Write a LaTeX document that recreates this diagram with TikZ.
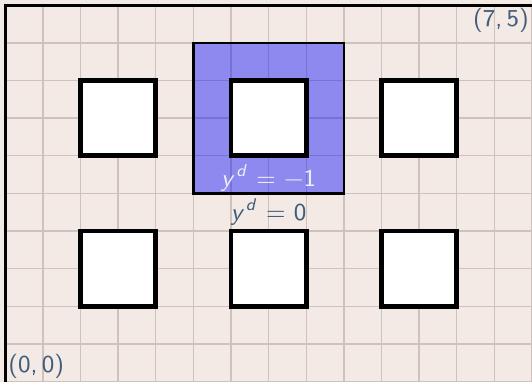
\documentclass[tikz,border=0pt]{standalone}
\definecolor{fondo}{HTML}{F3EAE5}
\definecolor{rejilla}{HTML}{CDC2BD}
\definecolor{texto}{HTML}{405C7C}
\newcommand{\ydsup}{\textit{y}\textsuperscript{\kern0.6pt\textit{d}}}
\tikzset{
  celda/.style={draw=black, line width=1.8pt, fill=white},
  zona/.style={draw=black, line width=0.9pt, fill=blue, fill opacity=0.41},
  etiqueta/.style={text=texto, inner sep=1.5pt}
}
\begin{document}
\begin{tikzpicture}[font=\sffamily\fontsize{9.2}{11}\selectfont]
			\useasboundingbox (-0.07,0) rectangle (7,5.07);
			%Fondo y rejilla
			\fill[fondo] (-0.07,0) rectangle (7,5.07);
			\draw[rejilla, line width=0.5pt] (0,0) grid[step=0.5] (7,5);
			\draw[line width=1.2pt] (0,0) -- (0,5) -- (7,5);
			%Zona azul
			\draw[zona] (2.5,2.5) rectangle (4.5,4.5);
			%Celdas de arriba
			\draw[celda] (1,3) rectangle (2,4);
			\draw[celda] (3,3) rectangle (4,4);
			\draw[celda] (5,3) rectangle (6,4);
			%Celdas de abajo
			\draw[celda] (1,1) rectangle (2,2);
			\draw[celda] (3,1) rectangle (4,2);
			\draw[celda] (5,1) rectangle (6,2);
			%Etiquetas
			\node[etiqueta, text=white, text opacity=0.85] (ydmenos) at (3.5,2.7) {\ydsup{} = −1};
			\node[etiqueta] (ydcero) at (3.5,2.25) {\ydsup{} = 0};
			\node[etiqueta, anchor=south west, inner sep=1pt] (orig) at (0,0) {(0,\kern1.6pt0)};
			\node[etiqueta, anchor=north east, inner sep=1pt] (esq) at (7,5) {(7,\kern1.6pt5)};
		\end{tikzpicture}
\end{document}
